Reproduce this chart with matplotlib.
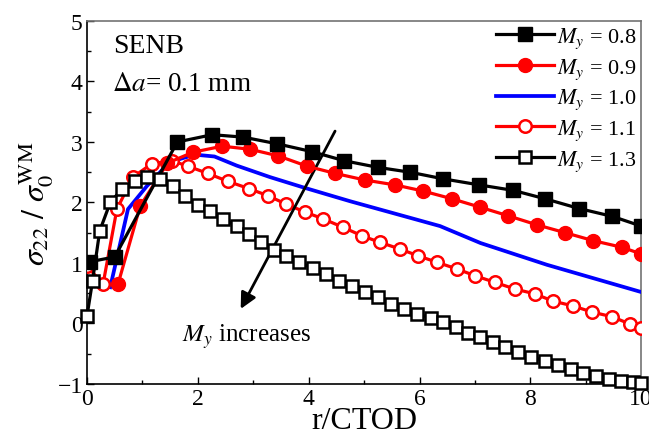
import matplotlib
matplotlib.use('Agg')
import matplotlib.pyplot as plt
from matplotlib.ticker import MultipleLocator

plt.rcParams['font.family'] = ['Liberation Serif', 'DejaVu Serif']
plt.rcParams['mathtext.fontset'] = 'stix'

# M_y = 0.8 (filled squares)
x08 = [0.05, 0.5, 1.63, 2.26, 2.82, 3.43, 4.06, 4.64, 5.25, 5.83, 6.43, 7.08, 7.69, 8.27, 8.88, 9.48, 10.0]
y08 = [1.02, 1.1, 3.0, 3.12, 3.08, 2.97, 2.84, 2.69, 2.58, 2.5, 2.39, 2.29, 2.2, 2.06, 1.9, 1.77, 1.61]

# M_y = 0.9 (filled circles)
x09 = [0.56, 0.96, 1.45, 1.91, 2.44, 2.94, 3.45, 3.97, 4.48, 5.02, 5.56, 6.06, 6.59, 7.1, 7.6, 8.12, 8.63, 9.13, 9.65, 10.0]
y09 = [0.65, 1.94, 2.65, 2.83, 2.93, 2.88, 2.77, 2.6, 2.48, 2.37, 2.29, 2.19, 2.06, 1.92, 1.78, 1.63, 1.5, 1.37, 1.26, 1.15]

# M_y = 1.0 (line only)
x10 = [0.42, 0.74, 1.08, 1.37, 1.68, 1.95, 2.3, 2.7, 3.3, 3.9, 4.75, 6.37, 7.1, 8.3, 10.0]
y10 = [0.6, 1.89, 2.27, 2.55, 2.72, 2.79, 2.76, 2.61, 2.42, 2.25, 2.02, 1.61, 1.33, 0.97, 0.52]

# M_y = 1.1 (open circles)
x11 = [0.0, 0.29, 0.54, 0.83, 1.17, 1.53, 1.82, 2.18, 2.54, 2.92, 3.27, 3.6, 3.94, 4.26, 4.62, 4.96,
       5.29, 5.65, 5.97, 6.32, 6.68, 7.0, 7.36, 7.72, 8.08, 8.41, 8.77, 9.11, 9.48, 9.8, 10.0]
y11 = [0.95, 0.65, 1.89, 2.42, 2.64, 2.69, 2.6, 2.48, 2.35, 2.23, 2.11, 1.97, 1.84, 1.73, 1.59, 1.45,
       1.34, 1.23, 1.12, 1.01, 0.9, 0.79, 0.68, 0.57, 0.49, 0.37, 0.29, 0.19, 0.11, -0.01, -0.07]

# M_y = 1.3 (open squares)
x13 = [0.0, 0.1, 0.23, 0.42, 0.63, 0.87, 1.08, 1.32, 1.55, 1.77, 2.0, 2.22, 2.46, 2.7, 2.92, 3.14,
       3.37, 3.6, 3.83, 4.07, 4.31, 4.55, 4.78, 5.02, 5.25, 5.48, 5.72, 5.96, 6.2, 6.43, 6.65, 6.88,
       7.1, 7.33, 7.55, 7.78, 8.02, 8.26, 8.5, 8.73, 8.95, 9.18, 9.41, 9.64, 9.86, 10.0]
y13 = [0.12, 0.7, 1.53, 2.0, 2.22, 2.35, 2.42, 2.38, 2.27, 2.11, 1.96, 1.86, 1.73, 1.61, 1.48, 1.35,
       1.22, 1.12, 1.02, 0.91, 0.81, 0.71, 0.62, 0.52, 0.43, 0.33, 0.24, 0.16, 0.09, 0.02, -0.06, -0.15,
       -0.23, -0.31, -0.39, -0.47, -0.55, -0.62, -0.69, -0.75, -0.81, -0.86, -0.91, -0.95, -0.97, -0.98]

fig = plt.figure(figsize=(6.49, 4.39), dpi=100)
ax = fig.add_axes([0.134, 0.123, 0.854, 0.827])

lw = 2.3
ax.plot(x08, y08, '-s', color='black', lw=lw, ms=9.5, mfc='black', mec='black',
        label=r'$M_y$ = 0.8', zorder=5)
ax.plot(x09, y09, '-o', color='red', lw=lw, ms=10, mfc='red', mec='red',
        label=r'$M_y$ = 0.9', zorder=4)
ax.plot(x10, y10, '-', color='blue', lw=lw + 0.4, label=r'$M_y$ = 1.0', zorder=3)
ax.plot(x11, y11, '-o', color='red', lw=lw, ms=9, mfc='white', mec='red', mew=1.8,
        label=r'$M_y$ = 1.1', zorder=3)
ax.plot(x13, y13, '-s', color='black', lw=lw, ms=8, mfc='white', mec='black', mew=1.8,
        label=r'$M_y$ = 1.3', zorder=6, clip_on=False)

ax.set_xlim(0, 10)
ax.set_ylim(-1, 5)
ax.xaxis.set_major_locator(MultipleLocator(2))
ax.xaxis.set_minor_locator(MultipleLocator(1))
ax.yaxis.set_major_locator(MultipleLocator(1))
ax.yaxis.set_minor_locator(MultipleLocator(0.5))
ax.tick_params(which='both', direction='in', top=False, right=False, labelsize=17)
ax.tick_params(which='major', length=5, width=1, pad=3)
ax.tick_params(which='minor', length=3, width=1)
for s in ax.spines.values():
    s.set_linewidth(1.2)
ax.spines['right'].set_color('0.45')
ax.spines['top'].set_color('0.45')

ax.set_xlabel('r/CTOD', fontsize=23, labelpad=-2)
ax.set_ylabel(r'$\sigma_{22}\ /\ \sigma_0^{\mathrm{WM}}$', fontsize=23, labelpad=2)

ax.text(0.47, 4.6, 'SENB', fontsize=20, va='center')
ax.text(0.45, 3.96, r'$\Delta a$= 0.1 mm', fontsize=19.5, va='center')

ax.annotate('', xy=(2.75, 0.2), xytext=(4.5, 3.22),
            arrowprops=dict(arrowstyle='-|>', color='black', lw=2, mutation_scale=24))
ax.text(1.72, -0.2, r'$M_y$ increases', fontsize=18, va='center')

leg = ax.legend(loc='upper right', frameon=False, fontsize=16, handlelength=2.6,
                labelspacing=0.28, handletextpad=0.15, borderaxespad=0.05,
                borderpad=0.15)

fig.savefig('out.png', dpi=100)
